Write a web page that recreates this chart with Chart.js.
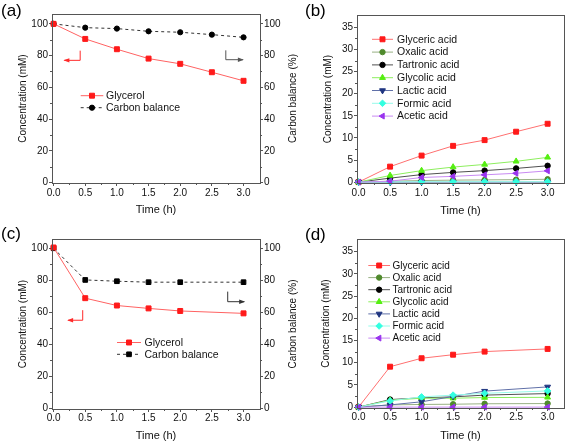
<!DOCTYPE html>
<html><head><meta charset="utf-8">
<script src="https://cdn.jsdelivr.net/npm/chart.js@4"></script>
<style>
html,body{margin:0;padding:0;background:#fff;}
#wrap{position:relative;width:569px;height:447px;overflow:hidden;font-family:"Liberation Sans",Arial,sans-serif;}
canvas{position:absolute;left:0;top:0;}
.lbl{position:absolute;font-size:17px;line-height:17px;color:#000;}
</style></head><body>
<div id="wrap">
<canvas id="ca" width="569" height="447"></canvas>
<canvas id="cb" width="569" height="447"></canvas>
<canvas id="cc" width="569" height="447"></canvas>
<canvas id="cd" width="569" height="447"></canvas>
<div class="lbl" style="left:1px;top:2px">(a)</div>
<div class="lbl" style="left:305px;top:2px">(b)</div>
<div class="lbl" style="left:1px;top:225px">(c)</div>
<div class="lbl" style="left:305px;top:226px">(d)</div>
</div>
<script>
// ---------- data ----------
const timeAB = [0, 0.5, 1, 1.5, 2, 2.5, 3];
const timeCD = [0, 0.5, 1, 1.5, 2, 3];
const xTicks = [0, 0.5, 1, 1.5, 2, 2.5, 3];
const xMinor = [0.25, 0.75, 1.25, 1.75, 2.25, 2.75];
const yTicksGly = [0, 20, 40, 60, 80, 100];
const yMinorGly = [10, 30, 50, 70, 90];
const yTicksProd = [0, 5, 10, 15, 20, 25, 30, 35];
const yMinorProd = [2.5, 7.5, 12.5, 17.5, 22.5, 27.5, 32.5];

const glycerolA = [100, 90.5, 84.0, 78.1, 74.8, 69.5, 64.1];
const carbonA   = [100, 97.6, 97.0, 95.3, 94.7, 93.2, 91.5];
const glycerolC = [100.5, 68.8, 64.2, 62.4, 60.8, 59.3];
const carbonC   = [100, 80.2, 79.4, 78.8, 78.8, 78.8];

const productNames = ['Glyceric acid', 'Oxalic acid', 'Tartronic acid', 'Glycolic acid', 'Lactic acid', 'Formic acid', 'Acetic acid'];
const glycericB  = [0, 3.5, 6.0, 8.2, 9.5, 11.4, 13.2];
const oxalicB    = [0, 0.2, 0.35, 0.45, 0.5, 0.55, 0.65];
const tartronicB = [0, 0.9, 1.7, 2.2, 2.6, 3.1, 3.7];
const glycolicB  = [0, 1.5, 2.6, 3.4, 4.0, 4.7, 5.6];
const lacticB    = [0, 0, 0, 0, 0, 0, 0];
const formicB    = [0, 0.05, 0.1, 0.1, 0.1, 0.1, 0.1];
const aceticB    = [0, 0.2, 1.05, 1.3, 1.65, 2.0, 2.55];

const glycericD  = [0, 9.1, 11.0, 11.8, 12.5, 13.1];
const oxalicD    = [0, 0.5, 0.6, 0.65, 0.75, 0.8];
const tartronicD = [0, 1.7, 2.1, 2.3, 2.7, 3.05];
const glycolicD  = [0, 1.55, 2.0, 2.0, 2.15, 2.2];
const lacticD    = [0, 0.5, 1.2, 2.4, 3.6, 4.55];
const formicD    = [0, 1.4, 2.3, 2.7, 3.1, 3.65];
const aceticD    = [0, 0, 0, 0, 0, 0];

// ---------- styles ----------
const FF = '"Liberation Sans", Arial, sans-serif';
const AX = '#555';
const productStyles = [
  {color:'#ff1a1a', line:'#ff7070', style:'rect', r:3.5, rot:0},
  {color:'#4f8a2c', line:'#98b083', style:'circle', r:2.7, rot:0},
  {color:'#000000', line:'#505050', style:'circle', r:2.7, rot:0},
  {color:'#55ee11', line:'#8dee5e', style:'triangle', r:3.4, rot:0},
  {color:'#1f3580', line:'#6070a8', style:'triangle', r:3.4, rot:180},
  {color:'#33ffe0', line:'#96fbea', style:'rectRot', r:3.3, rot:0},
  {color:'#9933ee', line:'#c88af2', style:'triangle', r:3.4, rot:270}
];

function pts(xs, ys){ return xs.map((t,i)=>({x:t, y:ys[i]})); }

function productSets(xs, arrays){
  return arrays.map((arr,i)=>{
    const s = productStyles[i];
    return {label: productNames[i], data: pts(xs, arr), borderColor: s.line, backgroundColor: s.color,
      pointBorderColor: s.color, pointBackgroundColor: s.color, borderWidth: 1, pointStyle: s.style,
      pointRadius: s.r, pointRotation: s.rot, pointBorderWidth: 1, clip: false, tension: 0, order: 7 - i};
  });
}

function axis(o){
  return {
    type: 'linear', position: o.position, min: o.min, max: o.max,
    afterFit: s => { if (o.width != null) s.width = o.width; if (o.height != null) s.height = o.height; },
    afterBuildTicks: s => { s.ticks = o.ticks.map(v => ({value: v})); },
    ticks: { padding: o.tpad, color: '#111', font: {family: FF, size: 10}, autoSkip: false, maxRotation: 0,
      callback: o.fmt || (v => String(v)) },
    grid: { display: true, drawOnChartArea: false, drawTicks: true, tickLength: 3, tickColor: AX, lineWidth: 1 },
    border: { display: true, color: AX, width: 1 },
    title: { display: !!o.title, text: o.title || '', color: '#111', font: {family: FF, size: o.tsize || 10},
      padding: {top: o.tp || 0, bottom: o.tp || 0} }
  };
}

// ---------- plugins ----------
const decor = {
  id: 'decor',
  afterDatasetsDraw(chart, args, opts){
    const ctx = chart.ctx, ca = chart.chartArea;
    ctx.save();
    // frame
    ctx.strokeStyle = AX; ctx.lineWidth = 1;
    ctx.strokeRect(Math.round(ca.left) + 0.5, Math.round(ca.top) + 0.5, Math.round(ca.right - ca.left), Math.round(ca.bottom - ca.top));
    // minor ticks
    const mn = opts.minor || {};
    Object.keys(mn).forEach(id => {
      const sc = chart.scales[id]; if (!sc) return;
      ctx.beginPath();
      mn[id].forEach(v => {
        const p = Math.round(sc.getPixelForValue(v)) + 0.5;
        if (id === 'x') { ctx.moveTo(p, ca.bottom); ctx.lineTo(p, ca.bottom + 2); }
        else if (sc.position === 'left') { ctx.moveTo(ca.left, p); ctx.lineTo(ca.left - 2, p); }
        else { ctx.moveTo(ca.right, p); ctx.lineTo(ca.right + 2, p); }
      });
      ctx.stroke();
    });
    // arrows
    (opts.arrows || []).forEach(a => {
      const sx = chart.scales.x, sy = chart.scales[a.scale || 'y'];
      const P = a.pts.map(p => [sx.getPixelForValue(p[0]), sy.getPixelForValue(p[1])]);
      ctx.strokeStyle = a.color; ctx.fillStyle = a.color; ctx.lineWidth = 1;
      ctx.beginPath(); ctx.moveTo(P[0][0], P[0][1]);
      for (let i = 1; i < P.length; i++) ctx.lineTo(P[i][0], P[i][1]);
      ctx.stroke();
      const e = P[P.length-1], b = P[P.length-2];
      const ang = Math.atan2(e[1]-b[1], e[0]-b[0]);
      ctx.beginPath();
      ctx.moveTo(e[0] + Math.cos(ang)*1, e[1] + Math.sin(ang)*1);
      ctx.lineTo(e[0] - Math.cos(ang)*5 - Math.sin(ang)*2.2, e[1] - Math.sin(ang)*5 + Math.cos(ang)*2.2);
      ctx.lineTo(e[0] - Math.cos(ang)*5 + Math.sin(ang)*2.2, e[1] - Math.sin(ang)*5 - Math.cos(ang)*2.2);
      ctx.closePath(); ctx.fill();
    });
    // legend
    const lg = opts.legend;
    if (lg) {
      ctx.font = lg.size + 'px ' + FF; ctx.textBaseline = 'middle'; ctx.textAlign = 'left';
      chart.data.datasets.forEach((ds, i) => {
        const y = ca.top + lg.y0 + i * lg.dy;
        const x0 = ca.left + lg.x0, x1 = ca.left + lg.x1;
        ctx.strokeStyle = ds.borderColor; ctx.lineWidth = 1; ctx.setLineDash(ds.borderDash || []);
        ctx.beginPath(); ctx.moveTo(x0, y); ctx.lineTo(x1, y); ctx.stroke();
        ctx.setLineDash([]);
        ctx.fillStyle = ds.pointBackgroundColor; ctx.strokeStyle = ds.pointBorderColor;
        Chart.helpers.drawPoint(ctx, {pointStyle: ds.pointStyle, radius: ds.pointRadius, rotation: ds.pointRotation || 0, borderWidth: 1}, (x0 + x1) / 2, y);
        ctx.fillStyle = '#111';
        ctx.fillText(ds.label, ca.left + lg.tx, y + 0.5);
      });
    }
    // right rotated title
    const rt = opts.rightTitle;
    if (rt) {
      ctx.fillStyle = '#111'; ctx.font = rt.size + 'px ' + FF;
      ctx.textAlign = 'center'; ctx.textBaseline = 'middle';
      ctx.translate(rt.x, (ca.top + ca.bottom) / 2); ctx.rotate(-Math.PI / 2);
      ctx.fillText(rt.text, 0, 0);
    }
    ctx.restore();
  }
};

const fmt1 = v => v.toFixed(1);
const xMin = -0.025, xMax = 3.26;

function baseOptions(padding){
  return {
    responsive: false, animation: false, devicePixelRatio: 1,
    layout: { padding },
    plugins: { legend: {display: false}, tooltip: {enabled: false} },
    elements: { line: { tension: 0 } }
  };
}

// ---------- (a) ----------
const optA = baseOptions({left: 0, top: 14, right: 259, bottom: 222});
optA.scales = {
  x: axis({position: 'bottom', min: xMin, max: xMax, ticks: xTicks, fmt: fmt1, height: 42, tpad: 1, title: 'Time (h)', tsize: 11, tp: 8.5}),
  y: axis({position: 'left', min: -0.3, max: 106.2, ticks: yTicksGly, width: 52, tpad: 1, title: 'Concentration (mM)', tsize: 10, tp: 17}),
  y2: axis({position: 'right', min: -0.3, max: 106.2, ticks: yTicksGly, width: 50, tpad: 1})
};
optA.plugins.decor = {
  minor: {x: xMinor, y: yMinorGly, y2: yMinorGly},
  arrows: [
    {pts: [[0.42, 83.1], [0.42, 77], [0.17, 77]], color: '#ff2a2a'},
    {pts: [[2.72, 83.3], [2.72, 77.4], [2.99, 77.4]], color: '#555', scale: 'y2'}
  ],
  legend: {x0: 28.7, x1: 51.3, tx: 54, y0: 81.7, dy: 12, size: 10.5},
  rightTitle: {text: 'Carbon balance (%)', x: 293.5, size: 10}
};
new Chart(document.getElementById('ca'), {
  type: 'line',
  data: { datasets: [
    {label: 'Glycerol', data: pts(timeAB, glycerolA), yAxisID: 'y', borderColor: '#ff6262', borderWidth: 1,
     pointStyle: 'rect', pointRadius: 3.5, pointBackgroundColor: '#ff1a1a', pointBorderColor: '#ff1a1a', pointBorderWidth: 1, clip: false},
    {label: 'Carbon balance', data: pts(timeAB, carbonA), yAxisID: 'y2', borderColor: '#333', borderWidth: 1, borderDash: [3, 3],
     pointStyle: 'circle', pointRadius: 2.6, pointBackgroundColor: '#000', pointBorderColor: '#000', pointBorderWidth: 1, clip: false}
  ]},
  options: optA, plugins: [decor]
});

// ---------- (c) ----------
const optC = baseOptions({left: 0, top: 239, right: 259, bottom: 0});
optC.scales = {
  x: axis({position: 'bottom', min: xMin, max: xMax, ticks: xTicks, fmt: fmt1, height: 38, tpad: 0.5, title: 'Time (h)', tsize: 11, tp: 4.5}),
  y: axis({position: 'left', min: -0.5, max: 105.8, ticks: yTicksGly, width: 52, tpad: 1, title: 'Concentration (mM)', tsize: 10, tp: 17}),
  y2: axis({position: 'right', min: -0.5, max: 105.8, ticks: yTicksGly, width: 50, tpad: 1})
};
optC.plugins.decor = {
  minor: {x: xMinor, y: yMinorGly, y2: yMinorGly},
  arrows: [
    {pts: [[0.46, 61.3], [0.46, 55], [0.23, 55]], color: '#ff2a2a'},
    {pts: [[2.75, 72.9], [2.75, 66.6], [3.01, 66.6]], color: '#333', scale: 'y2'}
  ],
  legend: {x0: 65, x1: 89, tx: 92.5, y0: 103.5, dy: 11.8, size: 10.5},
  rightTitle: {text: 'Carbon balance (%)', x: 293.5, size: 10}
};
new Chart(document.getElementById('cc'), {
  type: 'line',
  data: { datasets: [
    {label: 'Glycerol', data: pts(timeCD, glycerolC), yAxisID: 'y', borderColor: '#ff6262', borderWidth: 1,
     pointStyle: 'rect', pointRadius: 3.5, pointBackgroundColor: '#ff1a1a', pointBorderColor: '#ff1a1a', pointBorderWidth: 1, clip: false},
    {label: 'Carbon balance', data: pts(timeCD, carbonC), yAxisID: 'y2', borderColor: '#333', borderWidth: 1, borderDash: [3, 3],
     pointStyle: 'rect', pointRadius: 3.3, pointBackgroundColor: '#000', pointBorderColor: '#000', pointBorderWidth: 1, clip: false}
  ]},
  options: optC, plugins: [decor]
});

// ---------- (b) ----------
const optB = baseOptions({left: 300, top: 15, right: 1, bottom: 222});
optB.scales = {
  x: axis({position: 'bottom', min: xMin, max: xMax, ticks: xTicks, fmt: fmt1, height: 42, tpad: 1, title: 'Time (h)', tsize: 11, tp: 7.7}),
  y: axis({position: 'left', min: -0.2, max: 37.8, ticks: yTicksProd, width: 57, tpad: 1, title: 'Concentration (mM)', tsize: 10, tp: 22})
};
optB.plugins.decor = {
  minor: {x: xMinor, y: yMinorProd},
  legend: {x0: 15, x1: 36, tx: 40, y0: 24.3, dy: 12.8, size: 10.5}
};
new Chart(document.getElementById('cb'), {
  type: 'line',
  data: { datasets: productSets(timeAB, [glycericB, oxalicB, tartronicB, glycolicB, lacticB, formicB, aceticB]) },
  options: optB, plugins: [decor]
});

// ---------- (d) ----------
const optD = baseOptions({left: 300, top: 239, right: 1, bottom: 0});
optD.scales = {
  x: axis({position: 'bottom', min: xMin, max: xMax, ticks: xTicks, fmt: fmt1, height: 39, tpad: 0.5, title: 'Time (h)', tsize: 11, tp: 4.4}),
  y: axis({position: 'left', min: -0.2, max: 37.85, ticks: yTicksProd, width: 57, tpad: 1, title: 'Concentration (mM)', tsize: 10, tp: 20.5})
};
optD.plugins.decor = {
  minor: {x: xMinor, y: yMinorProd},
  legend: {x0: 11.3, x1: 33, tx: 35.5, y0: 26.5, dy: 12.1, size: 10}
};
new Chart(document.getElementById('cd'), {
  type: 'line',
  data: { datasets: productSets(timeCD, [glycericD, oxalicD, tartronicD, glycolicD, lacticD, formicD, aceticD]) },
  options: optD, plugins: [decor]
});
</script>
</body></html>
